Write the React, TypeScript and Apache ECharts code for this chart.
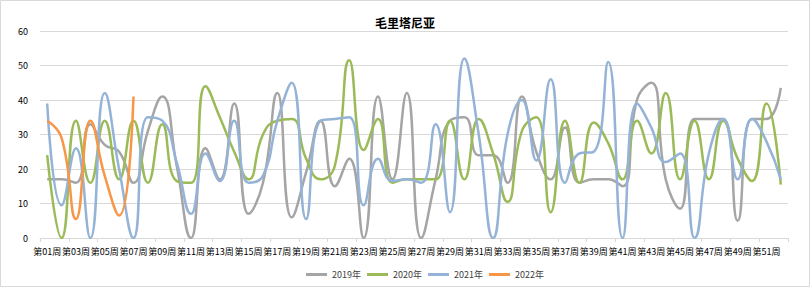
import React, { useEffect, useRef } from "react";
import * as echarts from "echarts";

const titleText = "毛里塔尼亚";

const weeks = [
  "第01周", "第02周", "第03周", "第04周", "第05周", "第06周", "第07周", "第08周", "第09周", "第10周",
  "第11周", "第12周", "第13周", "第14周", "第15周", "第16周", "第17周", "第18周", "第19周", "第20周",
  "第21周", "第22周", "第23周", "第24周", "第25周", "第26周", "第27周", "第28周", "第29周", "第30周",
  "第31周", "第32周", "第33周", "第34周", "第35周", "第36周", "第37周", "第38周", "第39周", "第40周",
  "第41周", "第42周", "第43周", "第44周", "第45周", "第46周", "第47周", "第48周", "第49周", "第50周",
  "第51周", "第52周",
];

const seriesNames = ["2019年", "2020年", "2021年", "2022年"];

const values2019 = [
  17, 17, 16, 33, 27, 25, 16, 31, 41, 21,
  0, 26, 17, 39, 7, 16, 42, 6, 19, 34,
  15, 23, 0, 41, 17, 42, 0, 17, 34, 35,
  24, 24, 16, 41, 25, 17, 32, 16, 17, 17,
  15, 40, 45, 17, 8.5, 34.5, 34.5, 34.5, 5, 34.5,
  34.5, 43.5,
];

const values2020 = [
  24, 0, 34, 16, 34, 17, 34, 16, 33, 16.5,
  16, 44, 35, 25, 17, 30, 34, 34.5, 23, 17,
  21, 51.5, 25.5, 34.5, 16, 17, 17, 17, 34, 17,
  34.5, 24.5, 10.5, 31, 35, 7.5, 34, 16, 33.5, 27.5,
  17, 34, 24.5, 42, 17, 34, 17, 34, 23, 16.5,
  39, 15.5,
];

const values2021 = [
  39, 9.5, 26, 0, 42, 20, 0, 35, 34, 22,
  7, 24.5, 16.5, 34, 16, 18, 34, 45, 5.5, 34,
  34.5, 35, 9.5, 23, 16.5, 17, 16, 33, 7.5, 52,
  30, 0, 30, 40, 22.5, 46, 16, 24.5, 25, 51,
  0, 39, 32, 22, 24.5, 0, 24.5, 34.5, 17, 34.5,
  28, 17,
];

const values2022 = [34, 29, 5.5, 34, 18, 6.5, 41];

const yTicks = { min: 0, max: 60, interval: 10 };

const colors = ["#A5A5A5", "#9BBB59", "#95B3D7", "#F79646"];

export default function App() {
  const ref = useRef<HTMLDivElement>(null);

  useEffect(() => {
    if (!ref.current) return;
    const chart = echarts.init(ref.current, undefined, { renderer: "svg" });
    const allValues = [values2019, values2020, values2021, values2022];
    chart.setOption({
      animation: false,
      backgroundColor: "#FFFFFF",
      color: colors,
      textStyle: { fontFamily: "'Noto Sans CJK SC', 'Liberation Sans', sans-serif" },
      title: {
        text: titleText,
        left: "center",
        top: 11,
        textStyle: { fontSize: 12, fontWeight: "bold", color: "#000000" },
      },
      legend: {
        top: 265,
        left: 301,
        icon: "rect",
        itemWidth: 21,
        itemHeight: 3,
        itemGap: 6,
        textStyle: { fontSize: 9, color: "#404040" },
        data: seriesNames,
      },
      graphic: [
        {
          type: "rect",
          silent: true,
          shape: { x: 0.5, y: 0.5, width: 809, height: 286 },
          style: { fill: "none", stroke: "#D9D9D9", lineWidth: 1 },
        },
      ],
      grid: { left: 40, right: 22, top: 31, bottom: 50, containLabel: false },
      xAxis: {
        type: "category",
        data: weeks,
        boundaryGap: true,
        axisLine: { show: true, lineStyle: { color: "#D9D9D9", width: 1 } },
        axisTick: { show: true, interval: 1, length: 4, lineStyle: { color: "#D9D9D9" } },
        axisLabel: { interval: 1, fontSize: 9, color: "#000000", margin: 9 },
        splitLine: { show: false },
      },
      yAxis: {
        type: "value",
        min: yTicks.min,
        max: yTicks.max,
        interval: yTicks.interval,
        axisLine: { show: false },
        axisTick: { show: false },
        axisLabel: { fontSize: 9, color: "#000000", margin: 12 },
        splitLine: { lineStyle: { color: "#D9D9D9", width: 1 } },
      },
      series: seriesNames.map((name, i) => ({
        name,
        type: "line",
        data: allValues[i],
        smooth: 0.5,
        symbol: "none",
        showSymbol: false,
        clip: true,
        lineStyle: { width: 2.5, color: colors[i] },
        itemStyle: { color: colors[i] },
      })),
    });
    return () => chart.dispose();
  }, []);

  return (
    <div
      ref={ref}
      style={{ position: "fixed", left: 0, top: 0, width: 810, height: 288 }}
    />
  );
}
